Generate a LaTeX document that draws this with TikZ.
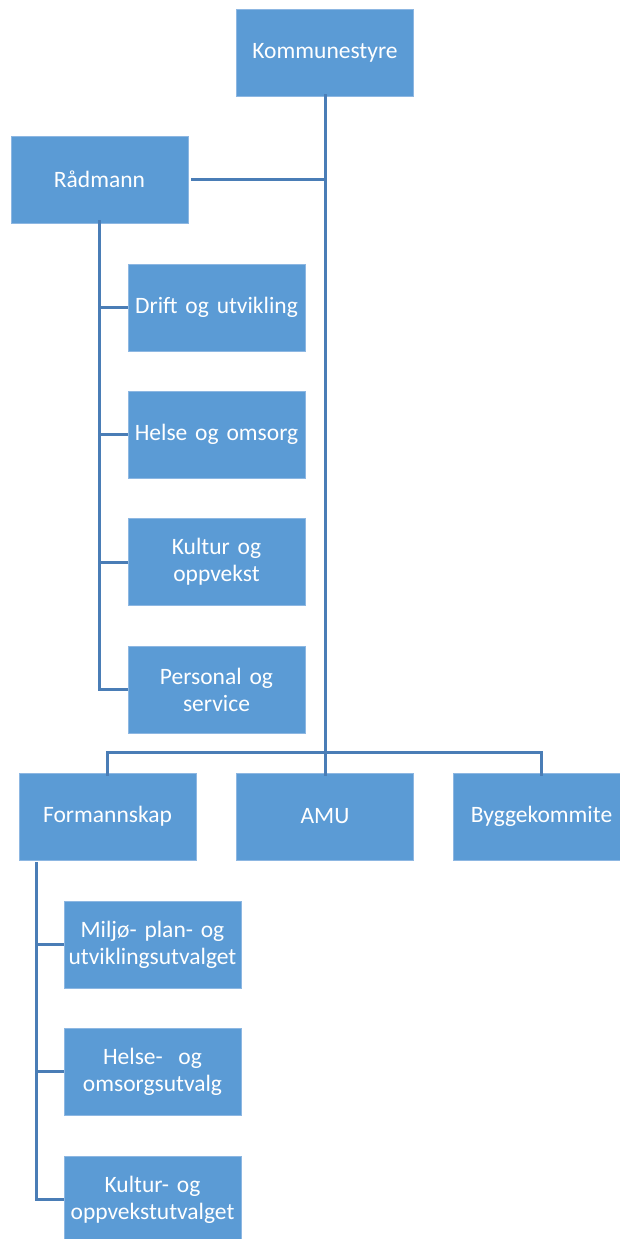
\documentclass[tikz,border=0pt]{standalone}
\usepackage{fontspec}
\setmainfont{Carlito}
\definecolor{boxblue}{HTML}{5B9BD5}
\definecolor{boxedge}{HTML}{8DB7E2}
\definecolor{linkblue}{HTML}{4A7DB6}
\begin{document}
\begin{tikzpicture}[x=1pt,y=-1pt,
  orgbox/.style={rectangle, fill=boxblue, draw=boxedge, line width=0.6pt,
    minimum width=177pt, minimum height=87pt, inner sep=0pt,
    text=white, align=center, text width=175pt,
    font=\fontsize{23.5}{27}\selectfont},
  link/.style={draw=linkblue, line width=3pt}]
\useasboundingbox (0,0) rectangle (620,1239);
\clip (0,0) rectangle (620,1239);
\node[orgbox] (k) at (325,52.5) {Kommunestyre};
\node[orgbox] (r) at (99.5,179.5) {Rådmann};
\node[orgbox] (d1) at (216.5,307.5) {Drift og utvikling};
\node[orgbox] (d2) at (216.5,434.5) {Helse og omsorg};
\node[orgbox] (d3) at (216.5,562) {Kultur og\\oppvekst};
\node[orgbox] (d4) at (216.5,689.5) {Personal og\\service};
\node[orgbox] (f) at (107.5,816.5) {Formannskap};
\node[orgbox] (a) at (325,816.5) {AMU};
\node[orgbox] (b) at (541.5,816.5) {Byggekommite};
\node[orgbox] (u1) at (152.5,944.5) {Miljø- plan- og\\utviklingsutvalget};
\node[orgbox] (u2) at (152.5,1071.5) {Helse-\ \ og\\omsorgsutvalg};
\node[orgbox] (u3) at (152.5,1199.5) {Kultur- og\\oppvekstutvalget};
% main spine
\draw[link] ([yshift=2]k.south) -- ([yshift=-3]a.north);
\draw[link] ([xshift=3]r.east) -- (k.south |- r.east);
% Rådmann branch
\draw[link] ([yshift=3]r.south) |- (d4.west);
\draw[link] (r.south |- d1.west) -- (d1.west);
\draw[link] (r.south |- d2.west) -- (d2.west);
\draw[link] (r.south |- d3.west) -- (d3.west);
% bottom row
\coordinate (bar) at (325,752);
\draw[link] ([yshift=-3]f.north) |- (bar) -| ([yshift=-3]b.north);
% Formannskap branch
\coordinate (ft) at (36,862);
\draw[link] (ft) |- (u3.west);
\draw[link] (ft |- u1.west) -- (u1.west);
\draw[link] (ft |- u2.west) -- (u2.west);
\end{tikzpicture}
\end{document}
